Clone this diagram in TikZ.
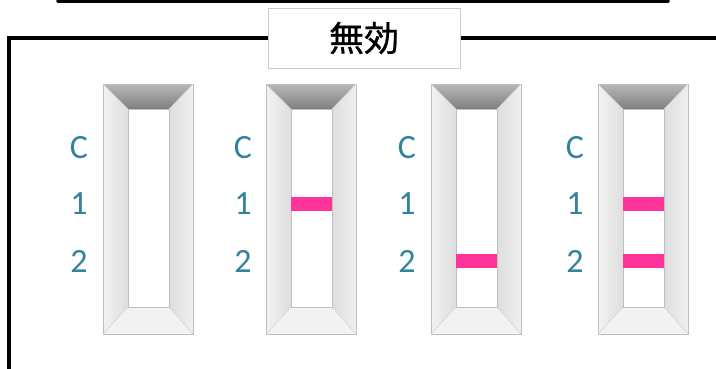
\documentclass[tikz,border=0pt]{standalone}
\usepackage{fontspec}
\newfontfamily\labfont{Carlito}
\newfontfamily\cjk[FakeBold=0.8]{Noto Sans CJK JP}
\definecolor{teal1}{HTML}{31849B}
\definecolor{pinkband}{HTML}{FF3399}
\definecolor{edgegray}{HTML}{BFBFBF}
\begin{document}
\begin{tikzpicture}[x=1pt,y=-1pt,
  lab/.style={font=\labfont\fontsize{34}{34}\selectfont, text=teal1, inner sep=0pt, anchor=center},
  band/.style={fill=pinkband, draw=none},
  edge/.style={draw=edgegray, line width=0.8pt}]
\useasboundingbox (0,0) rectangle (716,368);
\fill[white] (0,0) rectangle (716,368);
% top bar
\draw[line width=3.5pt, line cap=round] (58,1) -- (668,1);
% main frame
\draw[line width=4pt] (9,372) -- (9,38) -- (722,38);
\node[draw=black!20, fill=white, line width=0.8pt, minimum width=192pt, minimum height=60pt, inner sep=0pt, font=\cjk\fontsize{35}{35}\selectfont] (title) at (364,38) {無効};
% strip macro
\newcommand{\mystrip}[3]{%
  \begin{scope}[shift={(#1,0)}]
  \shade[left color=black!5, right color=black!13] (0,84) -- (#2,109) -- (#2,307) -- (0,334) -- cycle;
  \shade[left color=black!13, right color=black!6] (90,84) -- (#3,109) -- (#3,307) -- (90,334) -- cycle;
  \shade[top color=black!28, bottom color=black!50] (0,84) -- (90,84) -- (#3,109) -- (#2,109) -- cycle;
  \fill[black!5] (#2,307) -- (#3,307) -- (90,334) -- (0,334) -- cycle;
  \fill[white] (#2,109) rectangle (#3,307);
  \draw[edge] (0,84) rectangle (90,334);
  \draw[edge] (#2,109) rectangle (#3,307);
  \draw[draw=black!18, line width=0.5pt] (0,84) -- (#2,109) (90,84) -- (#3,109) (0,334) -- (#2,307) (90,334) -- (#3,307);
  \end{scope}}
\mystrip{103}{25}{66}
\mystrip{266}{25}{66}
\mystrip{431}{25}{66}
\mystrip{598}{25}{66}
% bands
\fill[band] (291,197) rectangle (332,211);
\fill[band] (456,254) rectangle (497,268);
\fill[band] (623,197) rectangle (664,211);
\fill[band] (623,254) rectangle (664,268);
% labels
\foreach \sx/\n in {79/a,243/b,407/c,575/d}{
  \node[lab] (c\n) at (\sx,148) {C};
  \node[lab] (o\n) at (\sx,204) {1};
  \node[lab] (t\n) at (\sx,261) {2};
}
\end{tikzpicture}
\end{document}
